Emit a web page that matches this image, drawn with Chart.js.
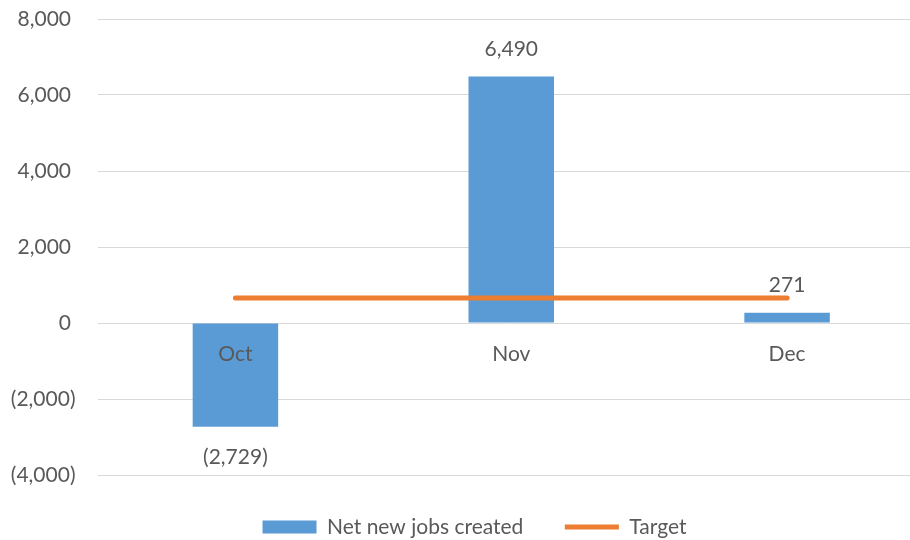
<!DOCTYPE html>
<html>
<head>
<meta charset="utf-8">
<script src="https://cdn.jsdelivr.net/npm/chart.js@4"></script>
<style>
  html, body { margin: 0; padding: 0; background: #fff; overflow: hidden; }
  #wrap { width: 925px; height: 540px; position: relative; }
</style>
</head>
<body>
<div id="wrap"><canvas id="c"></canvas></div>
<script>
const months = ['Oct', 'Nov', 'Dec']
const jobs = [-2729, 6490, 271]
const target = [660, 660, 660]
const yTicks = [-4000, -2000, 0, 2000, 4000, 6000, 8000]

// Excel style: negatives in parentheses, positives keep room for the ")"
const fmt = v => v < 0 ? '(' + Math.abs(v).toLocaleString('en-US') + ')' : v.toLocaleString('en-US')
const FONT = 'Lato, "Open Sans", sans-serif'
const GREY = '#595959'
const SIZE = 21

const barLabels = {
  id: 'barLabels',
  afterDatasetsDraw(chart) {
    const meta = chart.getDatasetMeta(0)
    const ctx = chart.ctx
    ctx.save()
    ctx.font = SIZE + 'px ' + FONT
    ctx.fillStyle = GREY
    ctx.textAlign = 'center'
    ctx.textBaseline = 'middle'
    meta.data.forEach((bar, i) => {
      const v = jobs[i]
      const y = v < 0 ? bar.y + 31 : bar.y - 27
      ctx.fillText(fmt(v), bar.x, y)
    })
    ctx.restore()
  }
}

// legend sits a little right of the canvas centre in the original
const legendShift = {
  id: 'legendShift',
  afterLayout(chart) {
    chart.legend.left += 12
    chart.legend.right += 12
  }
}

new Chart(document.getElementById('c'), {
  data: {
    labels: months,
    datasets: [
      { type: 'bar', label: 'Net new jobs created', data: jobs, backgroundColor: '#5B9BD5',
        barPercentage: 0.31, categoryPercentage: 1, pointStyle: 'rect', order: 2 },
      { type: 'line', label: 'Target', data: target, borderColor: '#ED7D31', backgroundColor: '#ED7D31',
        borderWidth: 5, pointRadius: 0, borderCapStyle: 'round', pointStyle: 'line', order: 1 },
    ]
  },
  options: {
    responsive: true, maintainAspectRatio: false, animation: false,
    layout: { padding: { top: 19, bottom: -7.5, left: 0, right: 0 } },
    plugins: {
      legend: {
        position: 'bottom',
        labels: { usePointStyle: true, pointStyleWidth: 54, boxHeight: 13, padding: 41.5,
          color: GREY, font: { family: FONT, size: SIZE },
          sort: (a, b) => a.datasetIndex - b.datasetIndex }
      },
      tooltip: { enabled: false }
    },
    scales: {
      x: {
        position: { y: 0 },
        grid: { display: false, drawTicks: false }, border: { display: false },
        ticks: { z: 1, color: GREY, padding: 19, font: { family: FONT, size: SIZE } }
      },
      y: {
        min: -4000, max: 8000,
        afterBuildTicks: s => { s.ticks = yTicks.map(v => ({ value: v })) },
        afterFit: s => { s.width = 97.5; s.paddingTop = 0; s.paddingBottom = 0 },
        grid: { color: '#d9d9d9', lineWidth: 1, drawTicks: false },
        border: { display: false },
        ticks: { color: GREY, padding: 22, font: { family: FONT, size: SIZE },
          callback: v => v < 0 ? fmt(v) : fmt(v) + '\u2008' }
      }
    }
  },
  plugins: [barLabels, legendShift]
})
</script>
</body>
</html>
